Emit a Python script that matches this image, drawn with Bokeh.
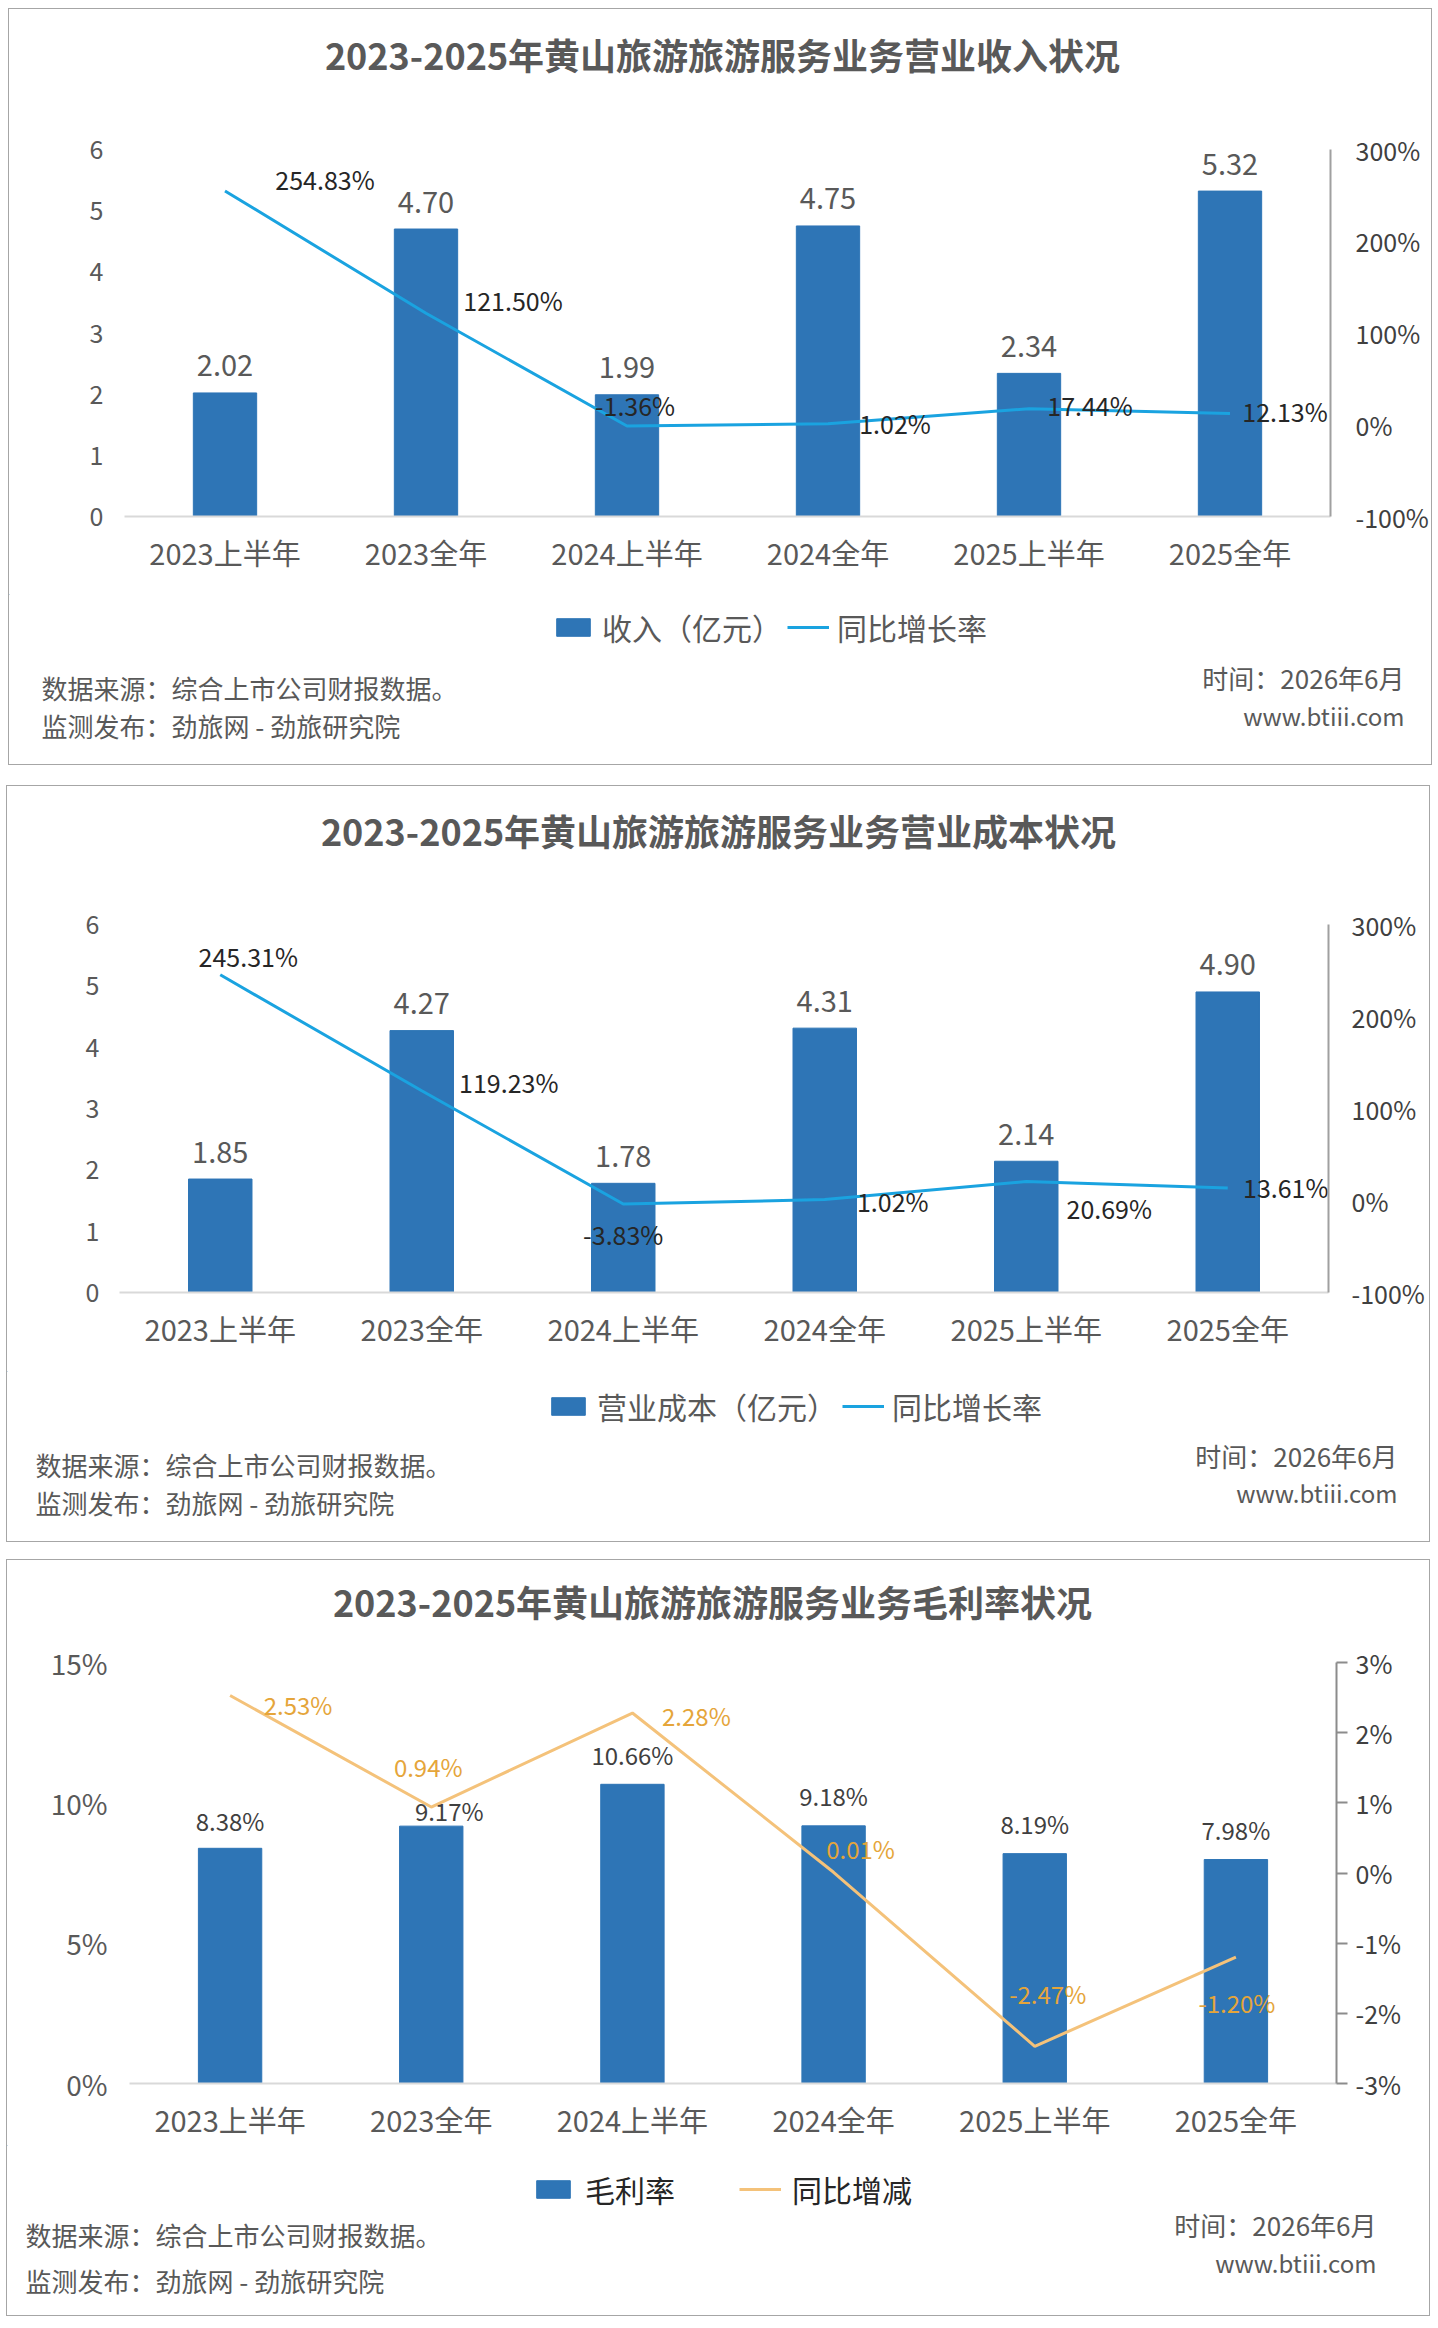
from bokeh.plotting import figure
from bokeh.models import (FactorRange, Range1d, LinearAxis, FixedTicker, PrintfTickFormatter,
                          ColumnDataSource, Legend, LegendItem)
from bokeh.layouts import column
from bokeh.embed import file_html
from bokeh.resources import INLINE
from bokeh.core.properties import value

# ---- data ----
periods = ["2023上半年", "2023全年", "2024上半年", "2024全年", "2025上半年", "2025全年"]

revenue = [2.02, 4.70, 1.99, 4.75, 2.34, 5.32]
revenue_yoy = [254.83, 121.50, -1.36, 1.02, 17.44, 12.13]

cost = [1.85, 4.27, 1.78, 4.31, 2.14, 4.90]
cost_yoy = [245.31, 119.23, -3.83, 1.02, 20.69, 13.61]

gross_margin = [8.38, 9.17, 10.66, 9.18, 8.19, 7.98]
margin_change = [2.53, 0.94, 2.28, 0.01, -2.47, -1.20]

left_ticks_money = [0, 1, 2, 3, 4, 5, 6]
right_ticks_yoy = [-100, 0, 100, 200, 300]
left_ticks_margin = [0, 5, 10, 15]
right_ticks_margin = [-3, -2, -1, 0, 1, 2, 3]

titles = ["2023-2025年黄山旅游旅游服务业务营业收入状况",
          "2023-2025年黄山旅游旅游服务业务营业成本状况",
          "2023-2025年黄山旅游旅游服务业务毛利率状况"]
legend_bar = ["收入（亿元）", "营业成本（亿元）", "毛利率"]
legend_line = ["同比增长率", "同比增长率", "同比增减"]
source_note = "数据来源：综合上市公司财报数据。"
publish_note = "监测发布：劲旅网 - 劲旅研究院"
time_note = "时间：2026年6月"
site_note = "www.btiii.com"

# ---- style ----
FONT = "Noto Sans CJK SC"
BLUE = "#2E75B6"
GREY = "#595959"
DARK = "#262626"
W = 1422
TOP_H = 80       # height of the title strip
FOOT_Y = 585     # where the legend / notes strip starts


def no_align(f):
    try:
        f.frame_align = False
    except AttributeError:
        pass


def text_strip(h):
    # a figure whose data space is simply its own pixels (y grows downward)
    f = figure(width=W, height=h, x_range=Range1d(0, W), y_range=Range1d(h, 0),
               output_backend="svg", toolbar_location=None, min_border=0,
               x_axis_location=None, y_axis_location=None, outline_line_color=None,
               background_fill_color="white", border_fill_color="white")
    f.xgrid.grid_line_color = None
    f.ygrid.grid_line_color = None
    no_align(f)
    return f


def put(f, x, y, text, size, color, align="left", bold=False):
    f.text(x=[x], y=[y], text=[text], text_font=value(FONT), text_font_size=f"{size}px",
           text_color=color, text_align=align, text_baseline="middle",
           text_font_style="bold" if bold else "normal")


def make_panel(c):
    H = c["height"]
    L, R, T, B = c["frame"]

    # title strip
    top = text_strip(TOP_H)
    tx, ty = c["title_at"]
    put(top, tx, ty, c["title"], 36, GREY, align="center", bold=True)

    # chart
    ch = FOOT_Y - TOP_H
    p = figure(width=W, height=ch, x_range=FactorRange(*periods), y_range=Range1d(*c["yl"]),
               output_backend="svg", toolbar_location=None,
               min_border_left=L, min_border_right=W - R,
               min_border_top=T - TOP_H, min_border_bottom=FOOT_Y - B,
               background_fill_color="white", border_fill_color="white", outline_line_color=None)
    no_align(p)
    p.xgrid.grid_line_color = None
    p.ygrid.grid_line_color = None

    src = ColumnDataSource(dict(
        x=periods, bar=c["bars"], line=c["line"],
        bar_txt=[c["bar_fmt"] % v for v in c["bars"]],
        line_txt=["%.2f%%" % v for v in c["line"]],
        bdx=c["bar_dx"], bdy=c["bar_dy"], ldx=c["line_dx"], ldy=c["line_dy"]))

    p.extra_y_ranges = {"r": Range1d(*c["yr"])}
    p.vbar(x="x", top="bar", width=0.315, color=BLUE, source=src)
    p.line(x="x", y="line", y_range_name="r", color=c["line_color"], line_width=3, source=src)

    p.text(x="x", y="bar", text="bar_txt", source=src, x_offset="bdx", y_offset="bdy",
           text_font=value(FONT), text_font_size=c["bar_lbl_size"], text_color=c["bar_lbl_color"],
           text_align="center", text_baseline="middle")
    p.text(x="x", y="line", text="line_txt", source=src, y_range_name="r",
           x_offset="ldx", y_offset="ldy", text_font=value(FONT), text_font_size=c["line_lbl_size"],
           text_color=c["line_lbl_color"], text_align="center", text_baseline="middle")

    ya = p.yaxis[0]
    ya.ticker = FixedTicker(ticks=c["lticks"])
    if c["lfmt"]:
        ya.formatter = PrintfTickFormatter(format=c["lfmt"])
    ya.axis_line_color = None
    ya.major_tick_line_color = None
    ya.major_tick_out = 0
    ya.major_tick_in = 0
    ya.minor_tick_line_color = None
    ya.major_label_text_font = FONT
    ya.major_label_text_font_size = c["ltick_size"]
    ya.major_label_text_color = GREY
    ya.major_label_standoff = c["lstand"]

    ra = LinearAxis(y_range_name="r", ticker=FixedTicker(ticks=c["rticks"]),
                    formatter=PrintfTickFormatter(format="%d%%"))
    ra.axis_line_color = c["raxis_color"]
    ra.axis_line_width = 2
    ra.minor_tick_line_color = None
    if c["rtick"]:
        ra.major_tick_line_color = c["raxis_color"]
        ra.major_tick_line_width = 2
        ra.major_tick_in = 0
        ra.major_tick_out = c["rtick"]
    else:
        ra.major_tick_line_color = None
    ra.major_label_text_font = FONT
    ra.major_label_text_font_size = "25px"
    ra.major_label_text_color = "#404040"
    ra.major_label_standoff = c["rstand"]
    p.add_layout(ra, "right")

    xa = p.xaxis[0]
    xa.axis_line_color = "#D9D9D9"
    xa.axis_line_width = 2
    xa.major_tick_line_color = None
    xa.major_tick_out = 0
    xa.major_tick_in = 0
    xa.minor_tick_line_color = None
    xa.major_label_text_font = FONT
    xa.major_label_text_font_size = "29px"
    xa.major_label_text_color = GREY
    xa.major_label_standoff = c["xstand"]

    # legend and notes strip; the legend swatches sit outside the visible range
    fh = H - FOOT_Y
    foot = text_strip(fh)
    sw_bar = foot.vbar(x=[-500], top=[-500], width=1, color=BLUE)
    sw_line = foot.line(x=[-600, -500], y=[-500, -500], color=c["line_color"], line_width=3)
    lx, ly = c["legend_at"]
    leg = Legend(items=[LegendItem(label=c["leg_bar"], renderers=[sw_bar]),
                        LegendItem(label=c["leg_line"], renderers=[sw_line])],
                 orientation="horizontal", location=(lx, fh - (ly - FOOT_Y) - 18),
                 glyph_width=42, glyph_height=22, label_height=36, label_standoff=c["leg_standoff"],
                 spacing=c["leg_spacing"], padding=0, margin=0, border_line_color=None,
                 background_fill_alpha=0, label_text_font=FONT, label_text_font_size="30px",
                 label_text_color=c["leg_color"])
    foot.add_layout(leg, "center")

    fl, fy1, fy2 = c["left_note"]
    put(foot, fl, fy1 - FOOT_Y, source_note, 26, GREY)
    put(foot, fl, fy2 - FOOT_Y, publish_note, 26, GREY)
    fr, fy3, fy4 = c["right_note"]
    put(foot, fr, fy3 - FOOT_Y, time_note, 26, GREY, align="right")
    put(foot, fr, fy4 - FOOT_Y, site_note, 24, GREY, align="right")

    return column(top, p, foot, spacing=0, margin=c["margin"],
                  styles={"border": "1px solid #A6A6A6"})


panel1 = make_panel(dict(
    height=755, margin=(8, 0, 0, 8), frame=(115, 1328, 140, 507), title=titles[0], title_at=(713, 44),
    bars=revenue, line=revenue_yoy, bar_fmt="%.2f", yl=(0, 6), yr=(-100, 300),
    lticks=left_ticks_money, rticks=right_ticks_yoy, lfmt=None, ltick_size="25px",
    line_color="#1AA3E0", bar_lbl_color=GREY, line_lbl_color=DARK,
    bar_lbl_size="29px", line_lbl_size="25px",
    bar_dx=[0] * 6, bar_dy=[-27] * 6,
    line_dx=[100, 87, 8, 67, 61, 55], line_dy=[-12, -13, -21, -1, -4, -3],
    lstand=21, rstand=19, rtick=0, raxis_color="#A0A0A0", xstand=14,
    leg_bar=legend_bar[0], leg_line=legend_line[0], legend_at=(543, 622),
    leg_standoff=8, leg_spacing=5, leg_color=GREY,
    left_note=(32, 678, 716), right_note=(1395, 668, 706)))

panel2 = make_panel(dict(
    height=755, margin=(20, 0, 0, 6), frame=(112, 1321, 138, 506), title=titles[1], title_at=(711, 43),
    bars=cost, line=cost_yoy, bar_fmt="%.2f", yl=(0, 6), yr=(-100, 300),
    lticks=left_ticks_money, rticks=right_ticks_yoy, lfmt=None, ltick_size="25px",
    line_color="#1AA3E0", bar_lbl_color=GREY, line_lbl_color=DARK,
    bar_lbl_size="29px", line_lbl_size="25px",
    bar_dx=[0] * 6, bar_dy=[-27] * 6,
    line_dx=[28, 87, 0, 68, 83, 58], line_dy=[-19, -9, 30, 1, 27, -1],
    lstand=20, rstand=17, rtick=0, raxis_color="#A0A0A0", xstand=14,
    leg_bar=legend_bar[1], leg_line=legend_line[1], legend_at=(540, 624),
    leg_standoff=8, leg_spacing=5, leg_color=GREY,
    left_note=(28, 678, 716), right_note=(1390, 669, 706)))

panel3 = make_panel(dict(
    height=755, margin=(17, 0, 0, 6), frame=(122, 1329, 102, 523), title=titles[2], title_at=(705, 40),
    bars=gross_margin, line=margin_change, bar_fmt="%.2f%%", yl=(0, 15), yr=(-3, 3),
    lticks=left_ticks_margin, rticks=right_ticks_margin, lfmt="%d%%", ltick_size="28px",
    line_color="#F4C27A", bar_lbl_color="#404040", line_lbl_color="#E5A53A",
    bar_lbl_size="24px", line_lbl_size="24px",
    bar_dx=[0, 18, 0, 0, 0, 0], bar_dy=[-28, -16, -30, -30, -30, -30],
    line_dx=[68, -3, 64, 27, 13, 1], line_dy=[9, -41, 2, -24, -53, 45],
    lstand=22, rstand=8, rtick=11, raxis_color="#8C8C8C", xstand=14,
    leg_bar=legend_bar[2], leg_line=legend_line[2], legend_at=(525, 633),
    leg_standoff=11, leg_spacing=64, leg_color="#262626",
    left_note=(18, 674, 720), right_note=(1369, 664, 702)))

layout = column(panel1, panel2, panel3, spacing=0)

open("out.html", "w").write(file_html(layout, INLINE))
